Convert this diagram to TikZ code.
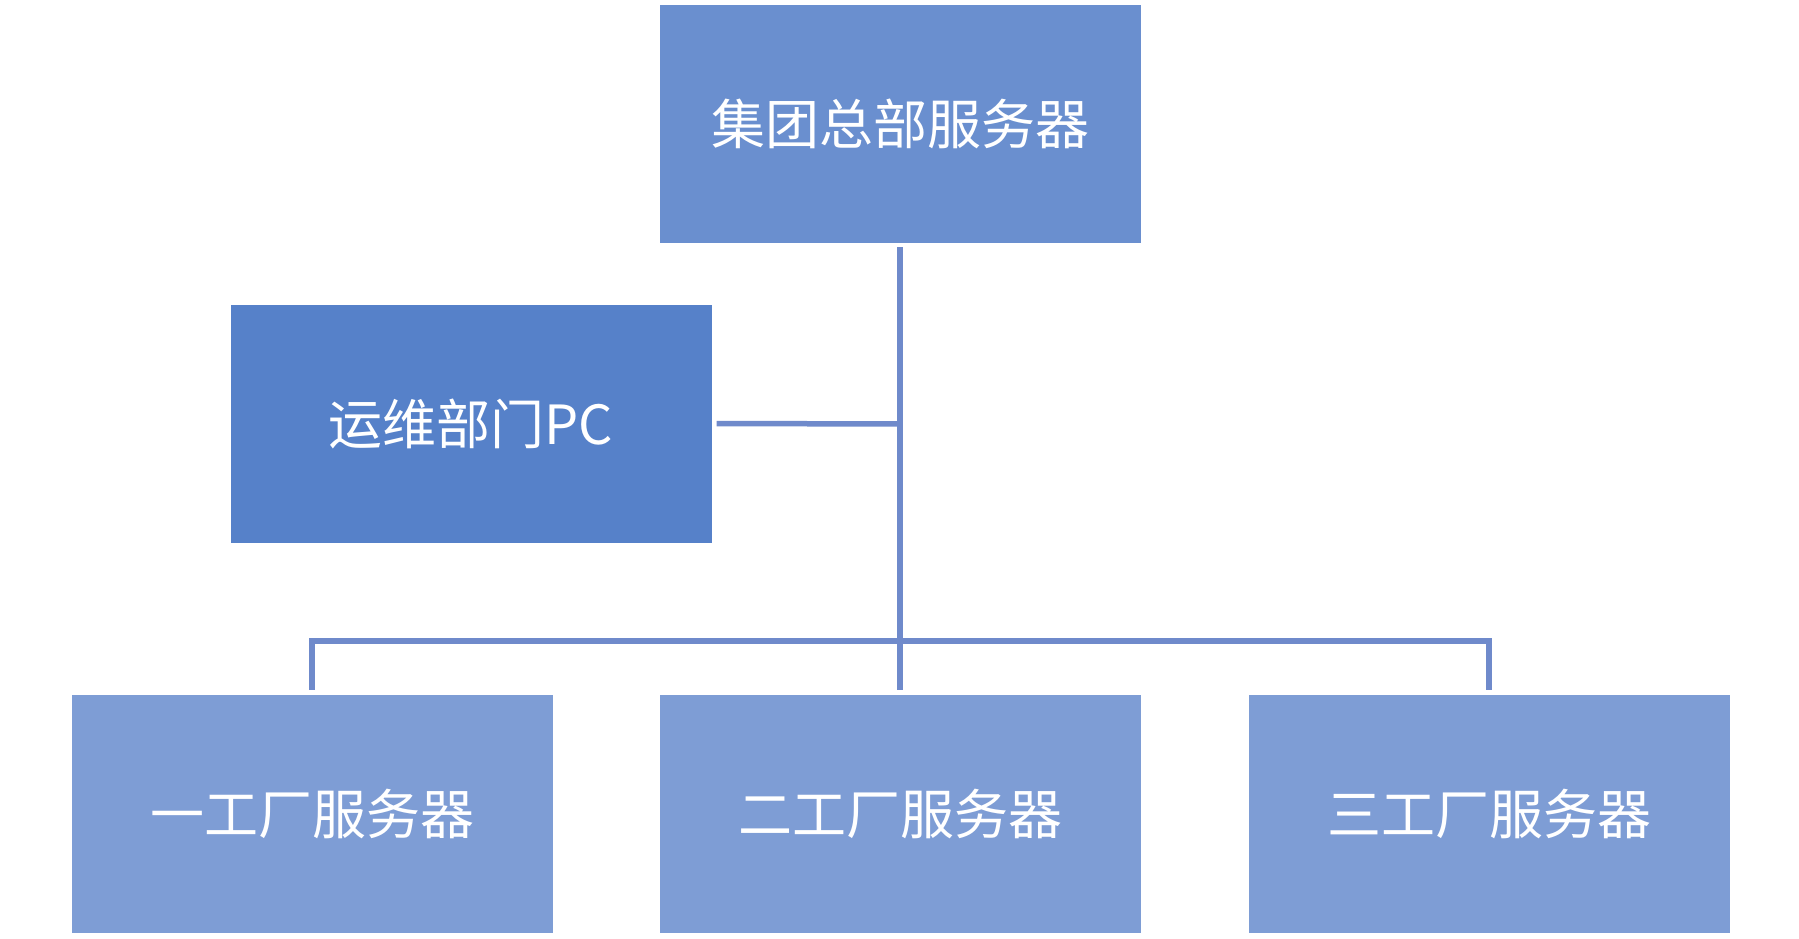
\documentclass[tikz,border=0pt]{standalone}
\usepackage{fontspec}
\setmainfont{Noto Sans CJK SC}
\begin{document}
\begin{tikzpicture}[x=1pt,y=-1pt,
  box/.style={draw=none,minimum width=481pt,minimum height=238pt,inner sep=0pt,text=white,font=\fontsize{54}{60}\selectfont},
  link/.style={draw=linec,line width=5.5pt}]
\definecolor{topc}{RGB}{106,143,207}
\definecolor{pcc}{RGB}{86,129,201}
\definecolor{botc}{RGB}{126,157,213}
\definecolor{linec}{RGB}{111,138,203}
\useasboundingbox (0,0) rectangle (1799,939);
\node[box,fill=topc] (hq) at (900.5,124) {集团总部服务器};
\node[box,fill=pcc] (pc) at (471,423.5) {运维部门PC};
\node[box,fill=botc] (f1) at (312,814) {一工厂服务器};
\node[box,fill=botc] (f2) at (900.5,814) {二工厂服务器};
\node[box,fill=botc] (f3) at (1489,814) {三工厂服务器};
\coordinate (bus) at (900,641);
\coordinate (tee) at (900,424);
\draw[link] ([yshift=-4pt]hq.south -| bus) -- ([yshift=5pt]f2.north -| bus);
\draw[link] ([xshift=5pt]pc.east) -- (tee);
\draw[link] ([yshift=5pt]f1.north) -- (f1.north |- bus) -- (f3.north |- bus) -- ([yshift=5pt]f3.north);
\end{tikzpicture}
\end{document}
